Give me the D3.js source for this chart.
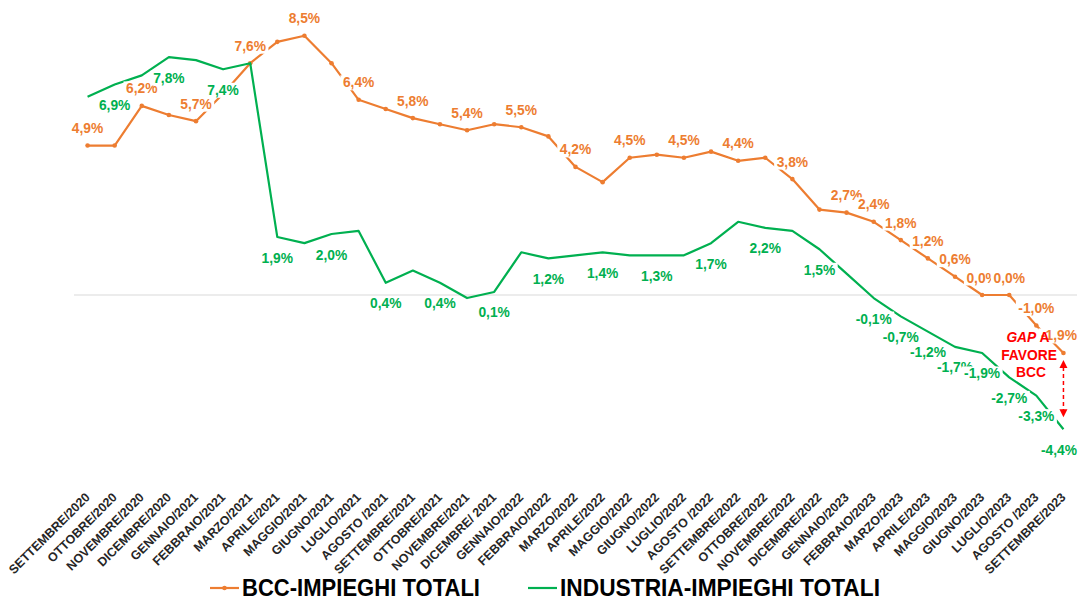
<!DOCTYPE html>
<html>
<head>
<meta charset="utf-8">
<script src="https://cdn.jsdelivr.net/npm/d3@7"></script>
<style>
  body { margin: 0; background: #fff; }
  svg { display: block; }
  text { font-family: "Liberation Sans", Arial, sans-serif; }
</style>
</head>
<body>
<svg width="1078" height="601"></svg>
<script>
// months on the x axis
var months = ["SETTEMBRE/2020", "OTTOBRE/2020", "NOVEMBRE/2020", "DICEMBRE/2020",
  "GENNAIO/2021", "FEBBRAIO/2021", "MARZO/2021", "APRILE/2021", "MAGGIO/2021", "GIUGNO/2021",
  "LUGLIO/2021", "AGOSTO /2021", "SETTEMBRE/2021", "OTTOBRE/2021", "NOVEMBRE/2021", "DICEMBRE/ 2021",
  "GENNAIO/2022", "FEBBRAIO/2022", "MARZO/2022", "APRILE/2022", "MAGGIO/2022", "GIUGNO/2022",
  "LUGLIO/2022", "AGOSTO /2022", "SETTEMBRE/2022", "OTTOBRE/2022", "NOVEMBRE/2022", "DICEMBRE/2022",
  "GENNAIO/2023", "FEBBRAIO/2023", "MARZO/2023", "APRILE/2023", "MAGGIO/2023", "GIUGNO/2023",
  "LUGLIO/2023", "AGOSTO /2023", "SETTEMBRE/2023"];

// yearly change in %
var bcc = [4.9, 4.9, 6.2, 5.9, 5.7, 6.6, 7.6, 8.3, 8.5, 7.6, 6.4, 6.1, 5.8, 5.6, 5.4, 5.6, 5.5, 5.2,
  4.2, 3.7, 4.5, 4.6, 4.5, 4.7, 4.4, 4.5, 3.8, 2.8, 2.7, 2.4, 1.8, 1.2, 0.6, 0.0, 0.0, -1.0, -1.9];
var industria = [6.5, 6.9, 7.2, 7.8, 7.7, 7.4, 7.6, 1.9, 1.7, 2.0, 2.1, 0.4, 0.8, 0.4, -0.1, 0.1, 1.4, 1.2,
  1.3, 1.4, 1.3, 1.3, 1.3, 1.7, 2.4, 2.2, 2.1, 1.5, 0.7, -0.1, -0.7, -1.2, -1.7, -1.9, -2.7, -3.3, -4.4];

// which points carry a data label
var bccLabelIdx = [0, 2, 4, 6, 8, 10, 12, 14, 16, 18, 20, 22, 24, 26, 28, 29, 30, 31, 32, 33, 34, 35, 36];
var industriaLabelIdx = [1, 3, 5, 7, 9, 11, 13, 15, 17, 19, 21, 23, 25, 27, 29, 30, 31, 32, 33, 34, 35, 36];

var seriesNames = ["BCC-IMPIEGHI TOTALI", "INDUSTRIA-IMPIEGHI TOTALI"];
var gapLines = ["FAVORE", "BCC"];

var orange = "#ED7D31";
var green = "#00B050";

var svg = d3.select("svg");
var W = 1078;

var x = d3.scalePoint().domain(months).range([74, 1077]).padding(0.5);
var y = d3.scaleLinear().domain([-5, 9]).range([447.5, 20.5]);

function fmt(v) {
  return v.toFixed(1).replace(".", ",") + "%";
}

// zero line
svg.append("line")
  .attr("x1", 74).attr("x2", 1077)
  .attr("y1", y(0)).attr("y2", y(0))
  .attr("stroke", "#d9d9d9")
  .attr("stroke-width", 1);

// x labels, rotated
var xAxis = svg.append("g");
xAxis.selectAll("text")
  .data(months)
  .enter()
  .append("text")
  .attr("transform", function(d) { return "translate(" + (x(d) + 3) + ",498) rotate(-45)"; })
  .attr("text-anchor", "end")
  .attr("font-size", 12.5)
  .attr("font-weight", "bold")
  .attr("fill", "#262626")
  .text(function(d) { return d; });

var line = d3.line()
  .x(function(d, i) { return x(months[i]); })
  .y(function(d) { return y(d); });

svg.append("path")
  .datum(bcc)
  .attr("fill", "none")
  .attr("stroke", orange)
  .attr("stroke-width", 2.2)
  .attr("stroke-linejoin", "round")
  .attr("d", line);

svg.selectAll(".dot")
  .data(bcc)
  .enter()
  .append("circle")
  .attr("class", "dot")
  .attr("cx", function(d, i) { return x(months[i]); })
  .attr("cy", function(d) { return y(d); })
  .attr("r", 2.3)
  .attr("fill", orange);

svg.append("path")
  .datum(industria)
  .attr("fill", "none")
  .attr("stroke", green)
  .attr("stroke-width", 2.2)
  .attr("stroke-linejoin", "round")
  .attr("d", line);

// data labels with white boxes, like excel (kept inside the chart)
function addLabels(values, idx, color, dy) {
  var g = svg.append("g");
  idx.forEach(function(i) {
    var lg = g.append("g");
    var t = lg.append("text")
      .attr("x", x(months[i]))
      .attr("y", y(values[i]) + dy)
      .attr("text-anchor", "middle")
      .attr("font-size", 13.8)
      .attr("font-weight", "bold")
      .attr("fill", color)
      .text(fmt(values[i]));
    var b = t.node().getBBox();
    var over = b.x + b.width - (W - 1);
    if (over > 0) {
      t.attr("x", x(months[i]) - over);
      b = t.node().getBBox();
    }
    lg.insert("rect", "text")
      .attr("x", b.x - 2.5)
      .attr("y", b.y)
      .attr("width", b.width + 5)
      .attr("height", b.height)
      .attr("fill", "#fff");
  });
}
addLabels(bcc, bccLabelIdx, orange, -12.5);
addLabels(industria, industriaLabelIdx, green, 25.5);

// gap annotation
var last = months[months.length - 1];
var ax = x(last);
var ann = svg.append("g")
  .attr("fill", "#FF0000")
  .attr("font-size", 13.8)
  .attr("font-weight", "bold")
  .attr("text-anchor", "middle");
var t1 = ann.append("text").attr("x", 1028).attr("y", 341.5);
t1.append("tspan").attr("font-style", "italic").text("GAP");
t1.append("tspan").text(" A");
ann.selectAll(".gl")
  .data(gapLines)
  .enter()
  .append("text")
  .attr("class", "gl")
  .attr("x", function(d, i) { return 1029 + i * 2; })
  .attr("y", function(d, i) { return 360 + i * 17; })
  .text(function(d) { return d; });

var arrowTop = y(bcc[bcc.length - 1]) + 7;
var arrowBot = y(industria[industria.length - 1]) - 12;
svg.append("line")
  .attr("x1", ax).attr("x2", ax)
  .attr("y1", arrowTop + 7).attr("y2", arrowBot - 7)
  .attr("stroke", "#FF0000")
  .attr("stroke-width", 1.5)
  .attr("stroke-dasharray", "4,3");
svg.append("path")
  .attr("d", "M" + ax + "," + arrowTop + "l-4,8h8z")
  .attr("fill", "#FF0000");
svg.append("path")
  .attr("d", "M" + ax + "," + arrowBot + "l-4,-8h8z")
  .attr("fill", "#FF0000");

// legend
var legend = svg.append("g");
var items = [
  { name: seriesNames[0], color: orange, x: 210, len: 238, marker: true },
  { name: seriesNames[1], color: green, x: 528, len: 320, marker: false }
];
items.forEach(function(it) {
  legend.append("line")
    .attr("x1", it.x).attr("x2", it.x + 29)
    .attr("y1", 588).attr("y2", 588)
    .attr("stroke", it.color)
    .attr("stroke-width", 2.2);
  if (it.marker) {
    legend.append("circle")
      .attr("cx", it.x + 14.5).attr("cy", 588).attr("r", 2.3)
      .attr("fill", it.color);
  }
  legend.append("text")
    .attr("x", it.x + 32)
    .attr("y", 596)
    .attr("font-size", 23)
    .attr("font-weight", "bold")
    .attr("fill", "#000")
    .attr("textLength", it.len)
    .attr("lengthAdjust", "spacingAndGlyphs")
    .text(it.name);
});
</script>
</body>
</html>
